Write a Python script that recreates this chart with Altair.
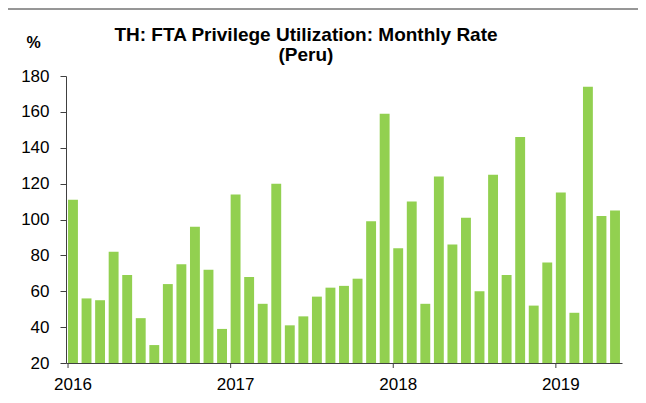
import altair as alt
import pandas as pd

months = [f"{y}-{m:02d}" for y in range(2016, 2020) for m in range(1, 13)][:41]
rates = [111, 56, 55, 82, 69, 45, 30, 64, 75, 96, 72, 39,
         114, 68, 53, 120, 41, 46, 57, 62, 63, 67, 99, 159,
         84, 110, 53, 124, 86, 101, 60, 125, 69, 146, 52, 76,
         115, 48, 174, 102, 105]
y_ticks = [20, 40, 60, 80, 100, 120, 140, 160, 180]

df = pd.DataFrame({"month": months, "rate": rates})
jan = df[df["month"].str.endswith("-01")]

W, H = 556, 287
FONT = "Liberation Sans"

xscale = alt.Scale(paddingInner=0.27, paddingOuter=0.15)

bars = alt.Chart(df).mark_bar(color="#92D050").encode(
    x=alt.X("month:O", scale=xscale, sort=None,
            axis=alt.Axis(title=None, ticks=False, labelAngle=0,
                          labelExpr="substring(datum.value,5,7)=='01' ? substring(datum.value,0,4) : ''",
                          labelFontSize=17, labelColor="#000000", labelPadding=13,
                          domainColor="#404040", labelFont=FONT)),
    y=alt.Y("rate:Q", scale=alt.Scale(domain=[20, 180], nice=False, zero=False),
            axis=alt.Axis(values=y_ticks, title="%", titleAngle=0, titleX=-33, titleY=-29,
                          titleAlign="center", titleBaseline="alphabetic",
                          titleFontSize=16, titleFontWeight="bold", titleFont=FONT,
                          titleColor="#000000",
                          grid=False, tickSize=6, labelPadding=11, labelFontSize=17,
                          labelColor="#000000", labelFont=FONT,
                          domainColor="#404040", tickColor="#404040")),
    y2=alt.Y2(datum=20),
)

ticks = alt.Chart(jan).mark_rule(color="#404040").encode(
    x=alt.X("month:O", bandPosition=0),
    y=alt.value(H),
    y2=alt.value(H + 5),
)

frame_top = alt.Chart(jan).mark_rule(color="#909090").encode(
    x=alt.value(-66), x2=alt.value(W + 80), y=alt.value(-67))
frame_left = alt.Chart(jan).mark_rule(color="#909090").encode(
    x=alt.value(-63), y=alt.value(-67), y2=alt.value(H + 50))

chart = alt.layer(bars, ticks, frame_top, frame_left).properties(
    width=W, height=H,
    autosize="none",
    padding={"left": 58, "top": 68, "right": 16, "bottom": 30},
    title=alt.TitleParams(
        text=["TH: FTA Privilege Utilization: Monthly Rate", "(Peru)"],
        fontSize=19, fontWeight="bold", font=FONT, color="#000000",
        anchor="middle", frame="group", dx=-38, dy=60, offset=4, lineHeight=20),
).configure_view(strokeWidth=0)

chart.save("out.html", embed_options={"renderer": "svg", "actions": False})
